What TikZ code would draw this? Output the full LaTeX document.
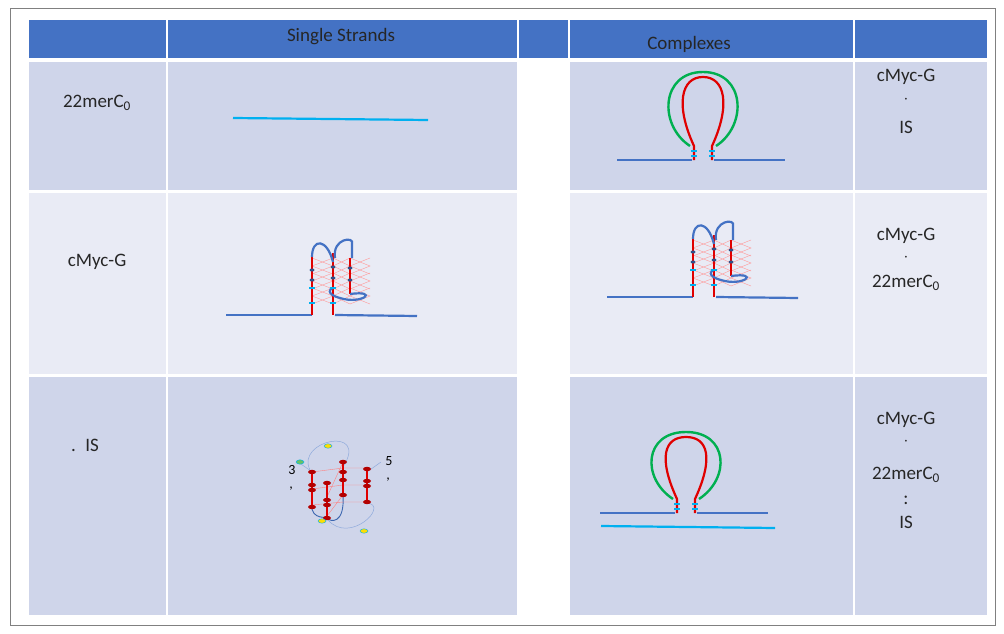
\documentclass[tikz,border=0pt]{standalone}
\usepackage{fontspec}
\setmainfont{Carlito}
\begin{document}
\begin{tikzpicture}[x=1pt,y=-1pt,
  hdr/.style={fill=hblue,draw=none},
  cellA/.style={fill=rowA,draw=none},
  cellB/.style={fill=rowB,draw=none},
  lbl/.style={font=\fontsize{19}{22}\selectfont,text=black!85},
  strand/.style={draw=sblue,line width=2.2pt},
  cstrand/.style={draw=cyanc,line width=2.2pt},
  redl/.style={draw=redc,line width=2.2pt},
  grn/.style={draw=greenc,line width=2.4pt},
  tick/.style={draw=cyanc,line width=1.2pt}]
\definecolor{hblue}{HTML}{4472C4}
\definecolor{rowA}{HTML}{CFD5EA}
\definecolor{rowB}{HTML}{E9EBF5}
\definecolor{sblue}{HTML}{4472C4}
\definecolor{cyanc}{HTML}{00B0F0}
\definecolor{redc}{HTML}{E00000}
\definecolor{greenc}{HTML}{00B050}
\useasboundingbox (0,0) rectangle (1004,634);
\fill[white] (0,0) rectangle (1004,634);
\draw[gray,line width=0.8pt] (10,8) rectangle (995,625);
% header
\foreach \a/\b in {29/166,168/517,519/568,570/853,855/987}
  \path[hdr] (\a,20) rectangle (\b,58);
% rows
\foreach \a/\b in {29/166,168/517,570/853,855/987}{
  \path[cellA] (\a,62) rectangle (\b,190);
  \path[cellB] (\a,193) rectangle (\b,374);
  \path[cellA] (\a,377) rectangle (\b,615);}
\node[lbl] (h1) at (341,37) {Single Strands};
\node[lbl] (h2) at (689,44) {Complexes};
\node[lbl] (l1) at (97,103) {22merC\textsubscript{0}};
\node[lbl] (l2) at (97,262) {cMyc-G};
\node[lbl] (l3) at (85,445) {.\enspace IS};
\node[lbl] (r1a) at (906,77) {cMyc-G};
\node[lbl] (r1b) at (906,100) {$\cdot$};
\node[lbl] (r1c) at (906,127) {IS};
\node[lbl] (r2a) at (906,236) {cMyc-G};
\node[lbl] (r2b) at (906,258) {$\cdot$};
\node[lbl] (r2c) at (906,283) {22merC\textsubscript{0}};
\node[lbl] (r3a) at (906,420) {cMyc-G};
\node[lbl] (r3b) at (906,442) {$\cdot$};
\node[lbl] (r3c) at (906,475) {22merC\textsubscript{0}};
\node[lbl] (r3d) at (906,500) {:};
\node[lbl] (r3e) at (906,522) {IS};
% row1 left
\draw[cstrand] (233,118) -- (428,120);
% hairpin complexes
\foreach \cx/\by/\ty in {703/160/77, 686/513/437}{
  \draw[strand] (\cx-86,\by) -- (\cx-11,\by);
  \draw[strand] (\cx+11,\by) -- (\cx+82,\by);
  \draw[redl] (\cx-9,\by) -- (\cx-9,\by-14) .. controls (\cx-28,\by-55) and (\cx-22,\ty) .. (\cx,\ty)
     .. controls (\cx+22,\ty) and (\cx+28,\by-55) .. (\cx+9,\by-14) -- (\cx+9,\by);
  \draw[grn] (\cx-13,\by-14) .. controls (\cx-45,\by-35) and (\cx-42,\ty-5) .. (\cx,\ty-5)
     .. controls (\cx+42,\ty-5) and (\cx+45,\by-35) .. (\cx+13,\by-14);
  \foreach \yy in {4,9}{\draw[tick] (\cx-12,\by-\yy) -- (\cx-6,\by-\yy); \draw[tick] (\cx+6,\by-\yy) -- (\cx+12,\by-\yy);}
}
\draw[cstrand] (601,526) -- (775,528);
% G-quadruplex single strand and complex
\foreach \ox/\oy in {0/0, 381/-18}{
\begin{scope}[shift={(\ox,\oy)}]
  \draw[strand] (226,315) -- (312,315);
  \draw[strand] (335,315) -- (417,316);
  \foreach \xa/\xb in {312/333, 333/350, 350/370}
    \foreach \yy in {258,273,288}{
      \draw[red!40,line width=0.4pt] (\xa,\yy) -- (\xb,\yy+8) -- (\xa,\yy+16);
      \draw[red!40,line width=0.4pt] (\xb,\yy) -- (\xa,\yy+8) -- (\xb,\yy+16);}
  \draw[redl] (312,315) -- (312,257);
  \draw[redl] (333,315) -- (333,253);
  \draw[redl] (350,294) -- (350,258);
  \draw[strand] (312,257) .. controls (312,238) and (327,238) .. (333,262);
  \draw[strand] (335,258) .. controls (332,238) and (355,236) .. (352,244) -- (352,258);
  \draw[strand] (350,294) .. controls (380,290) and (362,305) .. (340,298) .. controls (325,294) and (330,288) .. (333,288);
  \foreach \yy in {288,303}{\draw[tick] (309,\yy) -- (315,\yy); \draw[tick] (330,\yy) -- (336,\yy);}
  \foreach \px/\py in {312/270,312/280,333/267,333/278,350/268,350/280}
    \fill[sblue!70!black] (\px,\py) ellipse (2.5 and 1.5);
\end{scope}}
% IS structure
\draw[sblue!60,line width=0.5pt] (310,470) .. controls (295,440) and (370,425) .. (343,467);
\draw[sblue!60,line width=0.5pt] (328,520) .. controls (350,545) and (390,505) .. (367,503);
\draw[sblue!60,line width=0.5pt] (298,462) -- (311,471);
\draw[sblue!60,line width=0.5pt] (367,472) -- (381,462);
\draw[sblue!90!black,line width=0.9pt] (312,505) .. controls (310,520) and (330,518) .. (328,516);
\draw[sblue!90!black,line width=0.9pt] (343,495) .. controls (345,525) and (330,522) .. (327,518);
\draw[red!50,line width=0.4pt] (312,472) -- (343,468) -- (367,468);
\draw[red!50,line width=0.4pt] (312,489) -- (343,485) -- (367,485);
\draw[red!50,line width=0.4pt] (312,505) -- (343,502) -- (367,502);
\draw[red!50,line width=0.4pt] (327,497) -- (343,462);
\draw[red!50,line width=0.4pt] (327,516) -- (343,495);
\draw[redl] (312,472) -- (312,507);
\draw[redl] (327,483) -- (327,518);
\draw[redl] (343,462) -- (343,497);
\draw[redl] (367,469) -- (367,502);
\foreach \px/\py in {312/472,312/485,312/490,312/507,327/483,327/500,327/505,327/518,343/462,343/472,343/480,343/495,367/469,367/481,367/486,367/502}
  \fill[redc!80!black] (\px,\py) ellipse (4 and 2.2);
\fill[yellow!80!orange,draw=cyanc,line width=0.4pt] (328,446) ellipse (4 and 2.2);
\fill[green!60!black!60,draw=cyanc,line width=0.4pt] (300,462) ellipse (4 and 2.2);
\fill[yellow!80!orange,draw=cyanc,line width=0.4pt] (322,521) ellipse (4 and 2.2);
\fill[yellow!80!orange,draw=cyanc,line width=0.4pt] (364,531) ellipse (4 and 2.2);
\node[font=\fontsize{14}{16}\selectfont] (n3) at (292,470) {3};
\node[font=\fontsize{14}{16}\selectfont] (n3c) at (291,489) {,};
\node[font=\fontsize{14}{16}\selectfont] (n5) at (389,461) {5};
\node[font=\fontsize{14}{16}\selectfont] (n5c) at (388,480) {,};
\end{tikzpicture}
\end{document}
